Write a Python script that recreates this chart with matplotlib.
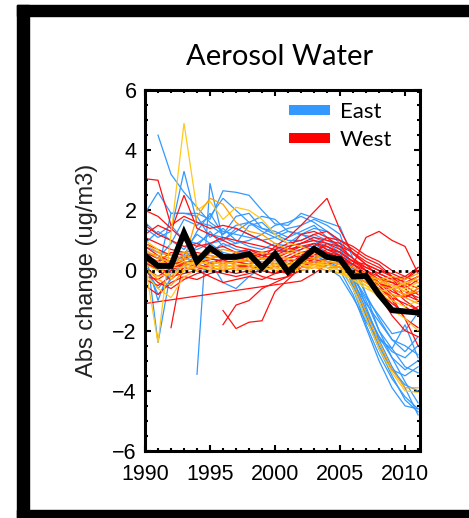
import numpy as np
import matplotlib
matplotlib.use('Agg')
import matplotlib.pyplot as plt
from matplotlib.lines import Line2D
from matplotlib.patches import Rectangle
from matplotlib.ticker import MultipleLocator

nan = np.nan

years = list(range(1990, 2012))

# Absolute change of aerosol water per site (ug/m3), one list per site
east_sites = [
    [nan, 4.5, 3.2, 2.6, 2.1, 1.6, 1.3, 1.2, 1.1, 1.0, 1.1, 1.3, 1.2, 1.0, 0.8, 0.5, -0.4, -1.5, -2.6, -3.5, -4.3, -4.7],
    [1.9, 2.6, 1.9, 1.9, 1.9, 1.7, 2.65, 2.6, 2.5, 2.0, 1.55, 1.5, 1.9, 1.75, 1.6, 1.45, 0.4, -0.8, -2.0, -2.9, -3.7, -4.4],
    [1.4, 1.1, 1.3, 3.3, 1.6, 1.5, 1.2, 1.5, 1.6, 1.4, 1.2, 1.4, 1.5, 1.7, 1.5, 1.2, 0.0, -1.2, -2.3, -3.2, -3.9, -4.8],
    [nan, nan, nan, nan, -3.45, 2.9, 1.0, 1.3, 1.6, 1.8, 1.7, 1.3, 1.2, 1.4, 1.3, 1.0, -0.2, -1.5, -2.5, -3.3, -3.8, -4.0],
    [0.5, -1.0, 0.2, 0.5, 1.3, 1.9, 1.2, 1.8, 1.9, 1.4, 1.3, 1.1, 1.3, 1.5, 1.1, 0.7, -0.6, -1.8, -2.8, -3.6, -4.2, -4.6],
    [1.0, -2.4, 0.0, 0.4, 0.8, 1.3, 0.8, 0.9, 1.5, 1.6, 1.2, 1.0, 1.0, 1.2, 1.0, 0.8, -0.2, -1.0, -2.0, -2.6, -3.2, -3.4],
    [0.6, 0.4, 0.9, 1.7, 1.5, 1.8, 2.4, 2.0, 1.6, 1.3, 1.1, 0.9, 1.2, 1.1, 0.9, 0.6, -0.3, -1.3, -2.2, -2.9, -3.3, -3.0],
    [0.3, 0.0, 1.9, 1.9, 1.8, 1.1, 1.4, 1.0, 0.8, 0.7, 0.9, 0.8, 0.9, 1.0, 0.7, 0.5, -0.5, -1.4, -2.2, -2.7, -2.9, -2.5],
    [0.8, 0.6, 0.5, 0.6, 0.7, 0.9, 0.6, 0.5, 0.7, 0.5, 0.6, 0.7, 0.8, 0.8, 0.6, 0.3, -0.4, -1.1, -1.7, -2.3, -2.5, -2.8],
    [0.2, -0.8, -0.3, 0.1, 0.4, 0.3, -0.4, -0.6, -0.2, 0.1, 0.2, 0.3, 0.4, 0.5, 0.3, 0.1, -0.6, -1.6, -2.6, -3.3, -3.5, -3.2],
    [0.9, 1.3, 1.0, 0.7, 1.2, 0.9, 1.0, 1.4, 1.2, 1.0, 0.8, 0.6, 0.7, 0.9, 0.6, 0.2, -0.2, -0.9, -1.5, -2.1, -2.0, -1.4],
    [0.4, 0.2, 0.3, 0.5, 0.2, 0.6, 0.9, 0.7, 0.6, 0.4, 0.3, 0.2, 0.3, 0.4, 0.2, 0.0, -0.8, -1.9, -3.0, -3.9, -4.5, -4.6],
    [1.6, 1.2, 1.5, 1.0, 0.9, 1.2, 1.1, 0.9, 1.0, 1.2, 1.5, 1.6, 1.8, 1.6, 1.3, 0.9, 0.1, -0.8, -1.6, -2.3, -2.7, -2.2],
    [0.1, -0.6, -0.1, 0.2, 0.5, 0.4, 0.3, 0.6, 0.4, 0.2, 0.1, 0.0, 0.2, 0.3, 0.1, -0.2, -0.9, -1.7, -2.3, -2.6, -1.8, -2.9],
]

central_sites = [
    [0.2, -2.4, 1.2, 4.9, 2.0, 2.3, 1.7, 2.1, 2.0, 1.7, 1.2, 0.9, 0.8, 0.6, 0.4, 0.2, -0.6, -1.6, -2.6, -3.4, -4.0, -4.05],
    [0.6, 0.5, 0.4, 0.3, 1.8, 2.4, 2.2, 1.6, 1.3, 1.2, 0.9, 0.7, 0.6, 0.5, 0.4, 0.3, -0.4, -1.4, -2.4, -3.3, -3.9, -3.9],
    [1.0, 0.7, -0.3, 0.2, 0.3, 0.4, 0.5, 0.4, 0.5, 0.4, 0.3, 0.4, 0.3, 0.2, 0.2, 0.1, -0.2, -0.5, -0.9, -1.3, -1.6, -2.0],
    [0.3, 0.1, -0.2, 0.2, 0.1, 0.2, 0.3, 0.2, 0.2, 0.3, 0.2, 0.1, 0.2, 0.3, 0.2, 0.1, -0.1, -0.3, -0.5, -0.6, -0.8, -0.7],
    [0.5, 0.2, 0.1, 0.3, 0.2, 0.3, 0.2, 0.3, 0.4, 0.2, 0.3, 0.2, 0.1, 0.2, 0.3, 0.2, 0.0, -0.2, -0.3, -0.5, -0.6, -0.4],
    [0.1, -0.3, -0.5, 0.0, 0.1, 0.1, 0.0, 0.1, 0.1, 0.0, 0.1, 0.0, 0.1, 0.1, 0.0, -0.1, -0.2, -0.4, -0.6, -0.8, -0.9, -1.1],
    [-0.1, -0.6, -0.9, -0.2, 0.0, 0.1, 0.2, 0.1, 0.0, 0.1, 0.0, 0.1, 0.2, 0.1, 0.1, 0.0, -0.1, -0.3, -0.4, -0.5, -0.7, -0.5],
    [0.7, 0.4, 0.3, 0.5, 0.4, 0.5, 0.4, 0.4, 0.3, 0.4, 0.5, 0.4, 0.3, 0.4, 0.3, 0.2, 0.0, -0.2, -0.4, -0.3, -0.5, -0.2],
    [0.2, 0.0, 0.1, 0.1, 0.3, 0.2, 0.1, 0.2, 0.2, 0.1, 0.2, 0.3, 0.2, 0.1, 0.2, 0.0, -0.3, -0.6, -0.8, -1.0, -1.2, -1.0],
    [0.4, 0.3, 0.2, 0.4, 0.3, 0.4, 0.5, 0.3, 0.3, 0.2, 0.1, 0.2, 0.3, 0.2, 0.1, 0.1, -0.1, -0.4, -0.7, -0.9, -0.8, -0.6],
    [0.0, -0.2, -0.1, 0.0, 0.2, 0.0, 0.1, 0.0, 0.1, 0.2, 0.1, 0.0, 0.0, 0.1, 0.1, -0.1, -0.3, -0.5, -0.7, -0.6, -0.4, -0.3],
    [0.9, 0.6, 0.5, 0.6, 0.5, 0.6, 0.7, 0.6, 0.5, 0.6, 0.5, 0.6, 0.5, 0.4, 0.5, 0.3, 0.1, -0.1, -0.3, -0.2, -0.3, -0.1],
]

west_sites = [
    [3.05, 3.0, 1.5, 1.8, 1.6, 1.4, 1.5, 1.4, 1.2, 1.0, 0.8, 0.7, 0.8, 0.9, 0.7, 0.5, 0.2, 0.0, -0.2, -0.4, -0.6, -0.3],
    [1.2, 1.5, 1.3, 2.5, 1.4, 1.2, 1.0, 0.8, 0.7, 0.6, 0.5, 0.7, 1.2, 1.3, 1.1, 0.8, 0.4, 0.1, -0.1, -0.3, -0.5, -0.8],
    [-1.1, nan, nan, nan, nan, nan, nan, nan, nan, nan, nan, nan, -0.35, -0.1, 0.2, 0.3, 0.1, -0.2, -0.4, -0.6, -0.8, -1.0],
    [nan, nan, -1.9, 0.4, 0.3, 0.2, 0.3, 0.2, 0.1, 0.2, 0.3, 0.4, 0.5, 0.6, 0.5, 0.3, 0.0, -0.3, -0.6, -0.9, -1.1, -1.3],
    [nan, nan, nan, nan, nan, nan, -1.33, -1.93, -1.72, -1.67, -0.7, -0.3, 0.1, 0.4, 0.6, 0.5, 0.2, -0.1, -0.4, -0.7, -0.9, -0.6],
    [nan, nan, nan, nan, nan, nan, -1.8, -1.15, -1.0, -0.6, -0.4, -0.2, 0.2, 0.5, 0.7, 0.6, 0.3, 0.0, -0.3, -0.5, -0.7, -0.9],
    [0.8, 0.5, 0.3, 0.2, 0.4, 0.3, 0.2, 0.3, 0.2, 0.4, 0.8, 1.1, 1.5, 1.95, 2.4, 1.35, 0.55, 0.2, 0.0, -0.2, -0.4, -0.2],
    [0.3, 0.2, 0.0, 0.3, 0.2, 0.4, 0.3, 0.3, 0.4, 0.5, 0.4, 0.3, 0.4, 0.5, 0.6, 0.4, 0.2, 1.1, 1.3, 1.0, 0.8, -0.1],
    [1.5, 1.2, 1.0, 0.8, 0.9, 0.7, 0.8, 0.6, 0.5, 0.6, 0.7, 0.9, 1.0, 1.2, 1.3, 1.0, 0.7, 0.4, 0.2, -0.2, -0.9, -0.7],
    [0.0, -0.4, -0.6, -0.3, -0.1, 0.0, -0.1, -0.2, -0.1, 0.0, -0.1, 0.0, 0.1, 0.2, 0.3, 0.2, 0.0, -0.3, -0.5, -0.9, -1.6, -1.9],
    [0.5, 0.3, 0.6, 0.5, 0.4, 0.6, 0.5, 0.4, 0.6, 0.5, 0.6, 0.8, 0.9, 1.0, 0.9, 0.7, 0.4, 0.0, -0.4, -0.8, -1.2, -1.5],
    [-0.3, -0.5, -0.2, -0.1, 0.0, -0.2, -0.4, -0.3, -0.2, -0.3, -0.1, 0.1, 0.3, 0.5, 0.6, 0.4, 0.1, -0.2, -0.4, -0.6, -0.5, -0.2],
    [1.1, 0.9, 0.7, 0.6, 0.5, 0.4, 0.3, 0.5, 0.6, 0.4, 0.3, 0.5, 0.7, 0.9, 0.8, 0.6, 0.3, 0.2, 0.0, -0.1, -0.3, 0.0],
    [0.2, 0.1, -0.1, 0.0, 0.2, 0.1, 0.0, 0.1, 0.2, 0.3, 0.2, 0.3, 0.4, 0.3, 0.2, 0.1, -0.1, -0.2, -0.4, -0.5, -0.4, -0.6],
    [-0.5, -0.8, -0.4, -0.2, -0.3, -0.1, 0.0, -0.1, 0.0, -0.2, -0.3, -0.2, 0.0, 0.1, 0.2, 0.1, -0.1, -0.4, -0.7, -1.1, -1.4, -1.2],
    [0.6, 0.4, 0.2, 0.3, 0.1, 0.2, 0.4, 0.5, 0.3, 0.2, 0.1, 0.2, 0.5, 0.8, 1.1, 1.0, 0.8, 0.5, 0.3, 0.0, -0.2, -0.4],
    [2.0, 1.8, 1.4, 1.0, 0.8, 0.9, 1.1, 1.0, 0.9, 0.8, 0.7, 0.6, 0.9, 1.1, 1.0, 0.9, 0.6, 0.2, -0.2, -0.6, -1.0, -1.3],
    [0.4, 0.2, 0.1, 0.2, 0.3, 0.2, 0.1, 0.0, 0.1, 0.2, 0.1, 0.2, 0.3, 0.4, 0.3, 0.2, 0.0, -0.1, -0.3, -0.4, -0.3, 0.1],
    [0.1, -0.2, 0.1, 0.3, 0.2, 0.1, 0.2, 0.3, 0.2, 0.0, -0.1, 0.0, 0.1, 0.3, 0.4, 0.3, 0.1, -0.3, -0.8, -1.5, -2.0, -2.2],
    [0.9, 0.7, 0.5, 0.4, 0.6, 0.5, 0.4, 0.6, 0.7, 0.5, 0.4, 0.6, 0.8, 0.7, 0.6, 0.4, 0.2, -0.1, -0.5, -1.0, -1.6, -2.5],
    [0.3, 0.0, -0.3, 0.1, 0.0, 0.3, 0.2, 0.1, 0.0, 0.1, 0.2, 0.4, 0.6, 0.7, 0.8, 0.6, 0.3, 0.1, -0.1, -0.3, -0.2, 0.1],
    [-0.2, -0.3, 0.0, 0.2, 0.1, 0.0, 0.1, 0.2, 0.1, 0.2, 0.0, -0.1, 0.2, 0.6, 0.9, 0.8, 0.6, 0.3, 0.1, -0.2, -0.6, -1.0],
]

# Average over all sites
mean_change = [0.5, 0.15, 0.15, 1.25, 0.3, 0.75, 0.45, 0.45, 0.55, 0.1, 0.55, -0.05,
               0.35, 0.72, 0.45, 0.38, -0.2, -0.18, -0.8, -1.32, -1.36, -1.4]

legend_labels = ['East', 'West']

BLUE = '#3399FF'
RED = '#FF1111'
GOLD = '#FFC81E'
ORANGE = '#FFA000'

plt.rcParams['font.family'] = 'Liberation Sans'
plt.rcParams['axes.unicode_minus'] = True

fig = plt.figure(figsize=(4.69, 5.18), dpi=100)
ax = fig.add_axes([145 / 469, 67 / 518, 275 / 469, 361 / 518])


def draw_site(values, color):
    # skip missing years, keep the remaining points joined
    v = np.array(values, dtype=float)
    x = np.array(years)
    ok = ~np.isnan(v)
    ax.plot(x[ok], v[ok], color=color, lw=0.9, solid_joinstyle='miter')


for s in east_sites:
    draw_site(s, BLUE)
for s in west_sites:
    draw_site(s, RED)
for i, s in enumerate(central_sites):
    draw_site(s, GOLD if i % 2 == 0 else ORANGE)

ax.axhline(0, color='black', lw=2.0, linestyle=(0, (1, 1.4)))
ax.plot(years, mean_change, color='black', lw=4.2, solid_joinstyle='miter')

ax.set_xlim(1990, 2011.15)
ax.set_ylim(-6, 6)
ax.xaxis.set_major_locator(MultipleLocator(5))
ax.xaxis.set_minor_locator(MultipleLocator(1))
ax.yaxis.set_major_locator(MultipleLocator(2))
ax.yaxis.set_minor_locator(MultipleLocator(0.5))
ax.tick_params(which='both', direction='in', top=True, right=True, width=1.5, colors='black')
ax.tick_params(which='major', length=4.5, labelsize=15.5)
ax.tick_params(which='minor', length=2.5)
ax.tick_params(axis='x', pad=9)
ax.tick_params(axis='y', pad=6)
for sp in ax.spines.values():
    sp.set_linewidth(2.2)

ax.text(-0.211, 0.5, 'Abs change (ug/m3)', transform=ax.transAxes, rotation=90,
        ha='center', va='center', fontsize=17, color='#222222')

fig.text(280 / 469, 1 - 57 / 518, 'Aerosol Water', ha='center', va='center',
         fontsize=21, family='Lato')

handles = [Line2D([], [], color=BLUE, lw=7.2, solid_capstyle='butt'),
           Line2D([], [], color='#FF0000', lw=7.2, solid_capstyle='butt')]
ax.legend(handles, legend_labels, loc='upper left', bbox_to_anchor=(0.5236, 0.968),
          frameon=False, borderpad=0, borderaxespad=0, handlelength=1.85,
          handletextpad=0.45, labelspacing=0.38, prop={'family': 'Lato', 'size': 16})

# thick black frame round the figure
frame = dict(color='black', transform=fig.transFigure, zorder=10)
fig.add_artist(Rectangle((17 / 469, 0), 12 / 469, 513 / 518, **frame))
fig.add_artist(Rectangle((17 / 469, 502 / 518), 1, 11 / 518, **frame))
fig.add_artist(Rectangle((17 / 469, 0), 1, 8 / 518, **frame))

plt.savefig('out.png', dpi=100)
plt.close()
